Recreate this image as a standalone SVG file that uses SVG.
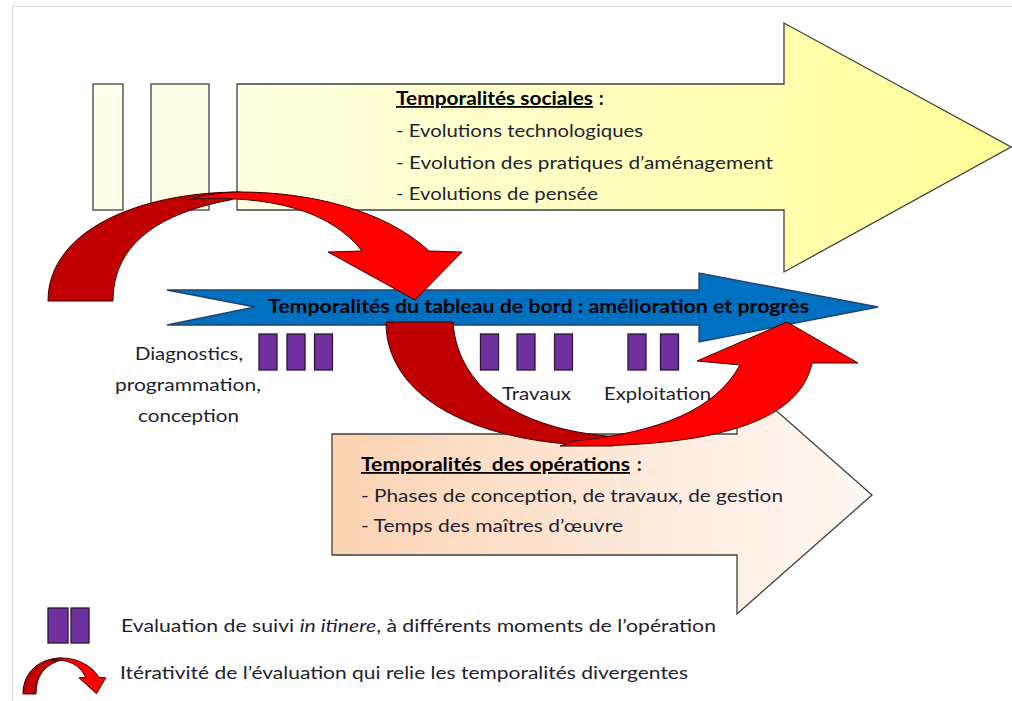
<svg xmlns="http://www.w3.org/2000/svg" width="1012" height="701" viewBox="0 0 1012 701">
<defs>
<linearGradient id="gY" x1="237" y1="0" x2="1012" y2="0" gradientUnits="userSpaceOnUse">
<stop offset="0" stop-color="#FFFFE2"/><stop offset="1" stop-color="#FFFF99"/>
</linearGradient>
<linearGradient id="gO" x1="332" y1="0" x2="872" y2="0" gradientUnits="userSpaceOnUse">
<stop offset="0" stop-color="#FBD3B2"/><stop offset="0.6" stop-color="#FDEBDD"/><stop offset="1" stop-color="#FFF8F3"/>
</linearGradient>
<g id="redArrow">
<path class="rdark" d="M48,301 C48,230 140,192 240,192 L250,194 L230,200 C150,215 113,250 113,301 Z"/>
<path class="rbright" d="M190,199 C205,195 222,192 240,192 C310,192 385,210 429,251 L462,252 L415,300 L328,252 L362,251 C330,210 270,195 190,199 Z"/>
</g>
</defs>
<style>
.frame{fill:none;stroke:#dcdcdc;stroke-width:1}
.edge{stroke:#404040;stroke-width:1.3;stroke-linejoin:miter}
.pur{fill:#7030A0;stroke:#2a1a30;stroke-width:1.3}
.rdark{fill:#C00000;stroke:#3a0000;stroke-width:1;vector-effect:non-scaling-stroke}
.rbright{fill:#FF0000;stroke:#3a0000;stroke-width:1;vector-effect:non-scaling-stroke}
text{font-family:Lato,"Open Sans","Liberation Sans",sans-serif;font-size:18px;fill:#1e1e30}
.b{font-weight:bold;fill:#000}
.u{text-decoration:underline}
</style>
<rect class="frame" x="12.5" y="6.5" width="1100" height="800"/>

<g id="sociales">
<rect class="edge" x="93" y="84" width="30" height="126" fill="#FFFFEA"/>
<rect class="edge" x="151" y="84" width="58" height="126" fill="#FFFFE6"/>
<path class="edge" fill="url(#gY)" d="M237,84 L784,84 L784,23 L1011,147 L784,272 L784,210 L237,210 Z"/>
<text class="b u" x="396" y="105" textLength="197" lengthAdjust="spacingAndGlyphs">Temporalités sociales</text>
<text class="b" x="599" y="105">:</text>
<text x="396" y="137" textLength="247" lengthAdjust="spacingAndGlyphs">- Evolutions technologiques</text>
<text x="396" y="169" textLength="377" lengthAdjust="spacingAndGlyphs">- Evolution des pratiques d’aménagement</text>
<text x="396" y="200" textLength="202" lengthAdjust="spacingAndGlyphs">- Evolutions de pensée</text>
</g>

<g id="operations">
<path class="edge" fill="url(#gO)" d="M332,434 L737,434 L737,376 L872,495 L737,614 L737,555 L332,555 Z"/>
<text class="b u" x="361" y="471" textLength="269" lengthAdjust="spacingAndGlyphs">Temporalités&#160; des opérations</text>
<text class="b" x="637" y="471">:</text>
<text x="361" y="502" textLength="422" lengthAdjust="spacingAndGlyphs">- Phases de conception, de travaux, de gestion</text>
<text x="361" y="532" textLength="262" lengthAdjust="spacingAndGlyphs">- Temps des maîtres d’œuvre</text>
</g>

<g id="tableau">
<path fill="#0070C0" stroke="#22406a" stroke-width="1.3" d="M167,290 L699,290 L699,273 L878,307 L699,342 L699,325 L167,325 L255,307 Z"/>
<text class="b" x="268" y="313" textLength="541" lengthAdjust="spacingAndGlyphs">Temporalités du tableau de bord : amélioration et progrès</text>
</g>

<g id="evaluations">
<rect class="pur" x="259" y="334" width="18" height="36"/>
<rect class="pur" x="287" y="334" width="18" height="36"/>
<rect class="pur" x="314.5" y="334" width="18" height="36"/>
<rect class="pur" x="480.5" y="334" width="18" height="36"/>
<rect class="pur" x="517" y="334" width="18" height="36"/>
<rect class="pur" x="554.5" y="334" width="18" height="36"/>
<rect class="pur" x="628" y="334" width="18" height="36"/>
<rect class="pur" x="660.5" y="334" width="18" height="36"/>
</g>

<g id="phases">
<text x="135" y="360" textLength="108" lengthAdjust="spacingAndGlyphs">Diagnostics,</text>
<text x="115" y="391" textLength="146" lengthAdjust="spacingAndGlyphs">programmation,</text>
<text x="138" y="422" textLength="101" lengthAdjust="spacingAndGlyphs">conception</text>
<text x="502" y="400" textLength="69" lengthAdjust="spacingAndGlyphs">Travaux</text>
<text x="604" y="400" textLength="107" lengthAdjust="spacingAndGlyphs">Exploitation</text>
</g>

<g id="connectors">
<use href="#redArrow"/>
<path class="rdark" d="M386,322 L453,322 C458,395 530,432 620,437 L613,446 C480,446 386,400 386,322 Z"/>
<path class="rbright" d="M560,446 C720,448 800,420 812,363 L858,363 L787,322 L697,361 L740,365 C715,410 660,432 575,441 Z"/>
</g>

<g id="legend">
<rect class="pur" x="48" y="608" width="20" height="35"/>
<rect class="pur" x="71" y="608" width="18" height="35"/>
<use href="#redArrow" transform="translate(23,658) scale(0.2 0.33) translate(-48,-192)"/>
<text x="121" y="632" textLength="595" lengthAdjust="spacingAndGlyphs">Evaluation de suivi <tspan font-style="italic">in itinere</tspan>, à différents moments de l’opération</text>
<text x="120" y="679" textLength="568" lengthAdjust="spacingAndGlyphs">Itérativité de l’évaluation qui relie les temporalités divergentes</text>
</g>
</svg>
